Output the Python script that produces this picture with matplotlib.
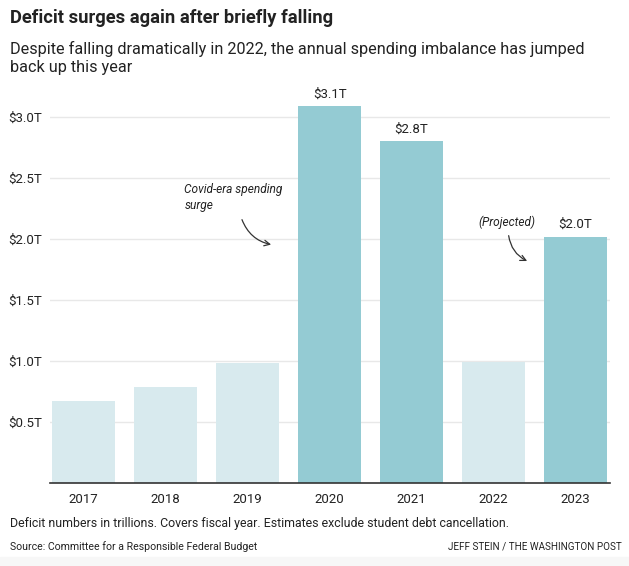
import matplotlib
matplotlib.use("Agg")
import matplotlib.pyplot as plt
from matplotlib.patches import Rectangle

years = ["2017", "2018", "2019", "2020", "2021", "2022", "2023"]
deficits = [0.67, 0.79, 0.98, 3.09, 2.80, 0.99, 2.02]
highlight = [False, False, False, True, True, False, True]
value_labels = ["", "", "", "$3.1T", "$2.8T", "", "$2.0T"]
yticks = [0.5, 1.0, 1.5, 2.0, 2.5, 3.0]
ytick_labels = ["$0.5T", "$1.0T", "$1.5T", "$2.0T", "$2.5T", "$3.0T"]

LIGHT = "#d8eaee"
DARK = "#94cbd3"
FONT = "Roboto"

plt.rcParams["font.family"] = [FONT, "DejaVu Sans"]

W, H = 629, 566
fig = plt.figure(figsize=(W / 100, H / 100), dpi=100)

def px(x, y):
    return x / W, 1 - y / H

ymax = 3.2
ppu = 122.0
ax_left, ax_right, ax_base = 50, 610, 483
ax = fig.add_axes([ax_left / W, (H - ax_base) / H, (ax_right - ax_left) / W, ymax * ppu / H])

xs = list(range(len(years)))
colors = [DARK if h else LIGHT for h in highlight]
ax.bar(xs, deficits, width=0.77, color=colors, zorder=2)

ax.set_xlim(-0.41, 6.42)
ax.set_ylim(0, ymax)
ax.set_yticks(yticks)
ax.set_yticklabels(ytick_labels)
ax.set_xticks(xs)
ax.set_xticklabels(years)
ax.tick_params(axis="y", length=0, pad=6, labelsize=9.5, colors="#222222")
ax.tick_params(axis="x", length=0, pad=7, labelsize=9.5, colors="#222222")
ax.grid(axis="y", color="#e8e8e8", linewidth=1.0, zorder=0)
for s in ["top", "right", "left"]:
    ax.spines[s].set_visible(False)
ax.spines["bottom"].set_color("#333333")
ax.spines["bottom"].set_linewidth(1.2)
ax.spines["bottom"].set_zorder(3)

for x, v, lab in zip(xs, deficits, value_labels):
    if lab:
        ax.annotate(lab, (x, v), xytext=(0, 4), textcoords="offset points",
                    ha="center", va="bottom", fontsize=9.5, color="#222222")

ax.text(1.23, 2.46, "Covid-era spending\nsurge", ha="left", va="top",
        fontsize=8.6, style="italic", color="#222222", linespacing=1.3)
ax.annotate("", xy=(2.32, 1.95), xytext=(1.92, 2.18),
            arrowprops=dict(arrowstyle="->", color="#333333", lw=0.9,
                            connectionstyle="arc3,rad=0.3"))
ax.text(4.81, 2.14, "(Projected)", ha="left", va="center",
        fontsize=8.6, style="italic", color="#222222")
ax.annotate("", xy=(5.44, 1.81), xytext=(5.18, 2.05),
            arrowprops=dict(arrowstyle="->", color="#333333", lw=0.9,
                            connectionstyle="arc3,rad=0.3"))

fig.text(*px(10, 18), "Deficit surges again after briefly falling", ha="left", va="center",
         fontsize=13.2, fontweight="bold", color="#222222")
fig.text(*px(10, 58), "Despite falling dramatically in 2022, the annual spending imbalance has jumped\nback up this year",
         ha="left", va="center", fontsize=11.7, color="#222222", linespacing=1.2)

fig.text(*px(10, 523), "Deficit numbers in trillions. Covers fiscal year. Estimates exclude student debt cancellation.",
         ha="left", va="center", fontsize=8.9, color="#222222")
fig.text(*px(10, 547), "Source: Committee for a Responsible Federal Budget",
         ha="left", va="center", fontsize=7.6, color="#222222")
fig.text(*px(622, 547), "JEFF STEIN / THE WASHINGTON POST",
         ha="right", va="center", fontsize=7.1, color="#222222")

fig.patches.append(Rectangle((0, 0), 1, 9 / H, transform=fig.transFigure,
                             color="#f7f7f7", zorder=0))

fig.savefig("out.png", dpi=100, facecolor="white")
